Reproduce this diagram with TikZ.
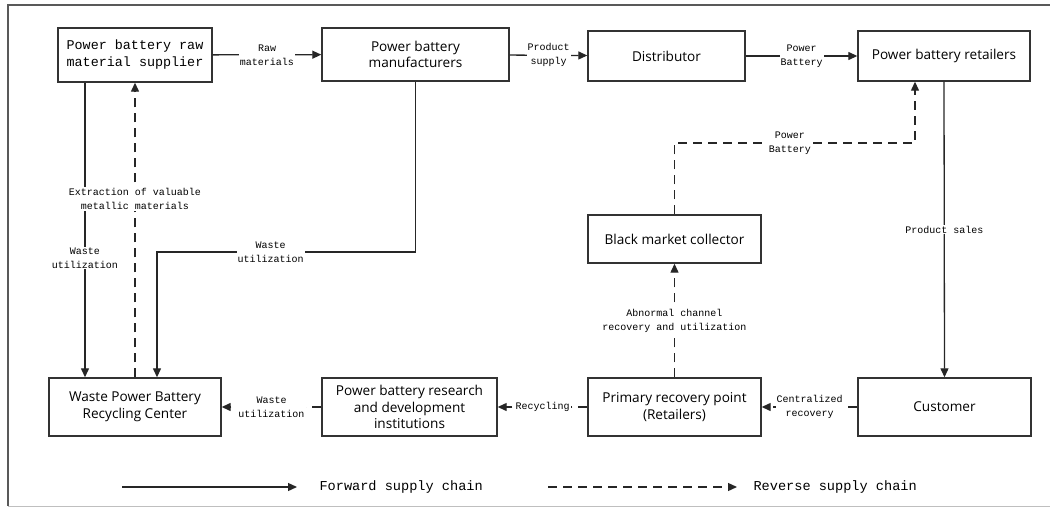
\documentclass[tikz,border=0pt]{standalone}
\usepackage{fontspec}
\setmainfont{Open Sans}
\newfontfamily\labelmono{Liberation Mono}
\usetikzlibrary{arrows.meta,calc}
\tikzset{
  box/.style={draw=black!80, line width=1.4pt, fill=white, align=center, inner sep=1pt,
    font=\fontsize{13.6}{16.5}\selectfont},
  lbl/.style={fill=white, inner sep=1pt, align=center, font=\labelmono\fontsize{10}{14}\selectfont},
  fwd/.style={line width=1.3pt, draw=black!85, -{Triangle[length=9pt,width=8pt]}},
  rev/.style={fwd, dash pattern=on 9pt off 6pt},
  frame/.style={draw=black!65, line width=1.8pt},
  legtext/.style={anchor=west, font=\labelmono\fontsize{13.6}{15}\selectfont}
}
\begin{document}
\begin{tikzpicture}[x=1pt,y=-1pt]
\useasboundingbox (0,0) rectangle (1050,508);
% frame
\draw[frame] (1050,5) -- (8,5) -- (8,506);
\draw[draw=black!25, line width=1pt] (8,506) -- (1050,506);

% nodes
\node[box, minimum width=154pt, minimum height=54pt, font=\labelmono\fontsize{13.4}{17}\selectfont] (raw) at (135,55) {Power battery raw\\material supplier};
\node[box, minimum width=187pt, minimum height=53pt] (manu) at (415.5,54.5) {Power battery\\manufacturers};
\node[box, minimum width=157pt, minimum height=50pt] (dist) at (666.5,56) {Distributor};
\node[box, minimum width=172pt, minimum height=50pt] (ret) at (944,56) {Power battery retailers};
\node[box, minimum width=173pt, minimum height=48pt] (black) at (674.5,239) {Black market collector};
\node[box, minimum width=173pt, minimum height=58pt] (prim) at (674.5,407) {Primary recovery point\\(Retailers)};
\node[box, minimum width=173pt, minimum height=58pt] (cust) at (944.5,407) {Customer};
\node[box, minimum width=175pt, minimum height=58pt] (rd) at (409.5,407) {Power battery research\\and development\\institutions};
\node[box, minimum width=172pt, minimum height=58pt] (waste) at (135,407) {Waste Power Battery\\Recycling Center};

% forward connectors
\draw[fwd] (raw) -- node[lbl]{Raw\\materials} (manu);
\draw[fwd] (manu) -- node[lbl]{Product\\supply} (dist);
\draw[fwd] (dist) -- node[lbl]{Power\\Battery} (ret);
\draw[fwd] (ret.south) -- node[lbl]{Product sales} (cust.north);
\draw[fwd] ([xshift=-50pt]raw.south) -- node[lbl, pos=0.595]{Waste\\utilization} ([xshift=-50pt]waste.north);
\coordinate (c2) at (157,252);
\draw[fwd] (manu.south) |- node[lbl, pos=0.78]{Waste\\utilization} (c2) -- (c2 |- waste.north);

% reverse connectors
\draw[rev] (waste.north) -- node[lbl, pos=0.605]{Extraction of valuable\\metallic materials} (raw.south);
\draw[rev] (cust) -- node[lbl]{Centralized\\recovery} (prim);
\draw[rev] (prim) -- node[lbl]{Recycling} (rd);
\draw[rev] (rd) -- node[lbl]{Waste\\utilization} (waste);
\draw[rev] (prim.north) -- node[lbl, pos=0.5]{Abnormal channel\\recovery and utilization} (black.south);
\coordinate (c1) at (915,143);
\draw[rev] (black.north) |- node[lbl, pos=0.74]{Power\\Battery} (c1) -- (c1 |- ret.south);

% legend
\coordinate (f1) at (122,487);
\coordinate (f2) at (297,487);
\coordinate (r1) at (548,487);
\coordinate (r2) at (737,487);
\draw[fwd] (f1) -- (f2);
\node[legtext] (ft) at (316,487) {Forward supply chain};
\draw[rev] (r1) -- (r2);
\node[legtext] (rt) at (750,487) {Reverse supply chain};
\end{tikzpicture}
\end{document}
